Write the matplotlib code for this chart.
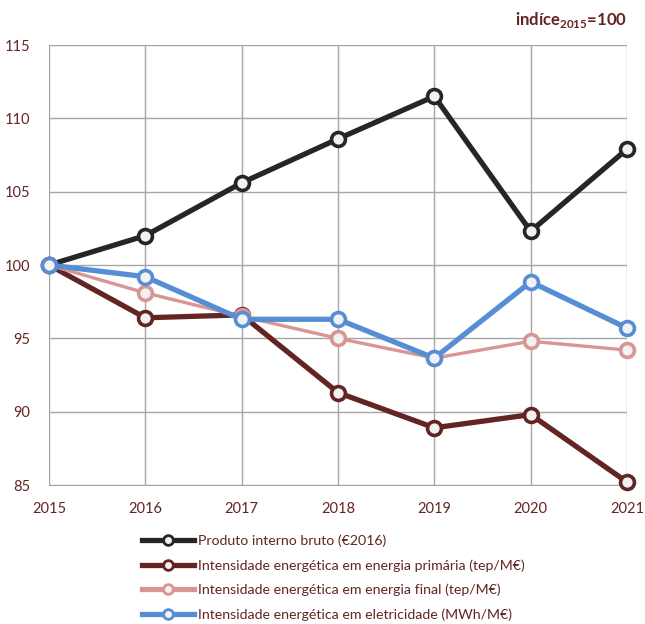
import matplotlib
matplotlib.use("Agg")
import matplotlib.pyplot as plt
from matplotlib.lines import Line2D

years = [2015, 2016, 2017, 2018, 2019, 2020, 2021]
pib = [100.0, 102.0, 105.6, 108.6, 111.5, 102.3, 107.9]
primaria = [100.0, 96.4, 96.6, 91.3, 88.9, 89.8, 85.2]
final = [100.0, 98.1, 96.5, 95.0, 93.65, 94.8, 94.2]
eletricidade = [100.0, 99.2, 96.3, 96.3, 93.65, 98.85, 95.7]
labels = ["Produto interno bruto (€2016)",
          "Intensidade energética em energia primária (tep/M€)",
          "Intensidade energética em energia final (tep/M€)",
          "Intensidade energética em eletricidade (MWh/M€)"]
colors = ["#262626", "#632523", "#D99594", "#558ED5"]
widths = [3.8, 3.8, 2.4, 3.8]

plt.rcParams['font.family'] = ['Lato', 'DejaVu Sans']
plt.rcParams['mathtext.fontset'] = 'custom'
plt.rcParams['mathtext.bf'] = 'Lato:bold'
plt.rcParams['mathtext.rm'] = 'Lato'

txtc = "#632523"
fig = plt.figure(figsize=(6.45, 6.24), dpi=100)
ax = fig.add_axes([49/645, 1-485/624, (627-49)/645, (485-45)/624])

series = [pib, primaria, final, eletricidade]
for i in range(4):
    ax.plot(years, series[i], color=colors[i], lw=widths[i], marker='o', ms=10,
            mfc="#F2F2F2", mec=colors[i], mew=2.6, zorder=3 + i, clip_on=False,
            solid_capstyle='round')

ax.set_xlim(2015, 2021)
ax.set_ylim(85, 115)
ax.set_yticks([85, 90, 95, 100, 105, 110, 115])
ax.set_xticks(years)
ax.grid(True, color="#A6A6A6", lw=1)
ax.set_axisbelow(True)
for s in ['top', 'right', 'left']:
    ax.spines[s].set_visible(False)
ax.spines['bottom'].set_color("#A6A6A6")
ax.tick_params(length=0, labelsize=10.5, colors=txtc)
ax.tick_params(axis='x', pad=12)
ax.tick_params(axis='y', pad=13.5)

fig.text(627/645, 1-20/624, r"indíce$_\mathbf{2015}$=100", ha='right', va='center',
         fontsize=12, fontweight='bold', color=txtc)

handles = [Line2D([0], [0], color=colors[i], lw=3.8, marker='o', ms=7,
                  mfc="#F2F2F2", mec=colors[i], mew=2) for i in range(4)]
leg = fig.legend(handles, labels, loc='upper left', bbox_to_anchor=(136/645, 1-529/624),
                 frameon=False, fontsize=10.2, handlelength=3.7, handletextpad=0.3,
                 labelspacing=0.85, borderaxespad=0)
for t in leg.get_texts():
    t.set_color(txtc)

fig.savefig("out.png", dpi=100)
